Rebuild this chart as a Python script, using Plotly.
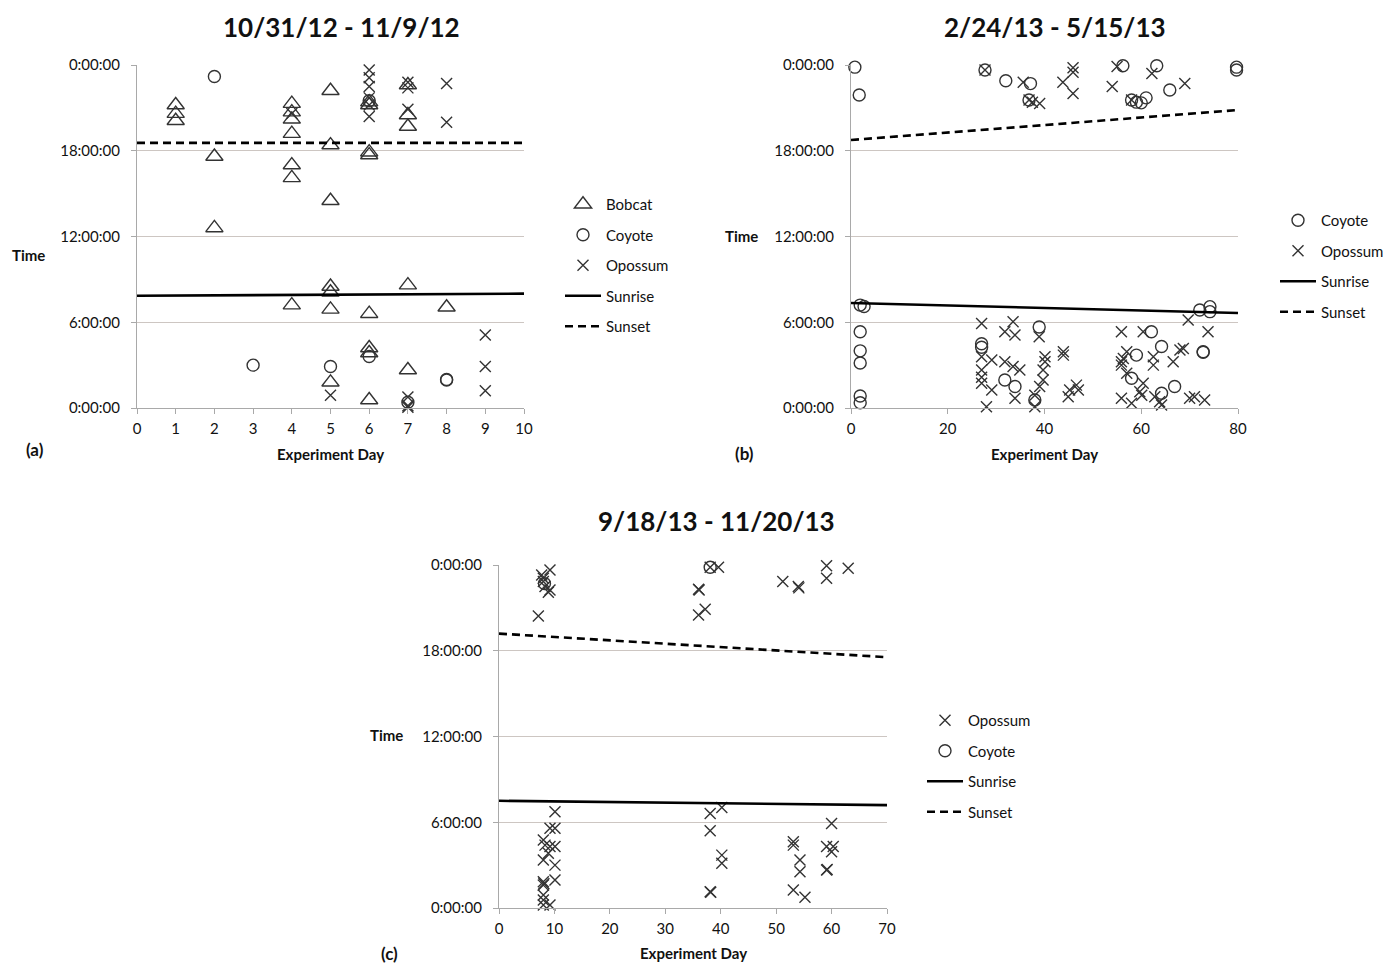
import plotly.graph_objects as go

W, H = 1383, 964

# ---------------- Panel (a): 10/31/12 - 11/9/12 ----------------
a_bobcat_day = [1, 1, 1, 2, 2, 4, 4, 4, 4, 4, 4, 4, 5, 5, 5, 5, 5, 5, 5,
                6, 6, 6, 6, 6, 6, 6, 6, 7, 7, 7, 7, 7, 8]
a_bobcat_time = [21.2, 20.6, 20.1, 17.6, 12.6, 21.3, 20.7, 20.2, 19.2, 17.0, 16.1, 7.2,
                 22.2, 18.4, 14.5, 8.5, 8.1, 6.9, 1.8,
                 21.4, 21.2, 17.9, 17.7, 6.6, 4.2, 3.85, 0.56,
                 22.6, 20.5, 19.7, 8.6, 2.66, 7.05]
a_coyote_day = [2, 3, 5, 6, 6, 7, 8, 8]
a_coyote_time = [23.2, 3.0, 2.9, 21.5, 3.6, 0.4, 1.96, 2.0]
a_opossum_day = [4, 5, 6, 6, 6, 6, 6, 6, 7, 7, 7, 7, 7, 7, 8, 8, 9, 9, 9]
a_opossum_time = [20.6, 0.9, 23.65, 23.1, 22.5, 21.7, 21.2, 20.4, 22.8, 22.4, 20.9,
                  0.77, 0.15, 0.05, 22.7, 20.0, 5.1, 2.9, 1.2]
a_sun_day = [0, 10]
a_sunrise = [7.85, 8.0]
a_sunset = [18.55, 18.55]

# ---------------- Panel (b): 2/24/13 - 5/15/13 ----------------
b_coyote_day = [0.8, 1.7, 27.7, 32, 37.1, 36.8, 56.2, 58, 59, 60, 61, 63.2, 65.9, 79.7, 79.7,
                1.9, 2.7, 1.9, 1.9, 1.9, 1.9, 1.9, 27, 27, 31.8, 33.9, 38.9, 38, 59, 62.1,
                64.2, 58, 64.2, 66.9, 72.8, 72.8, 72.1, 74.2, 74.2]
b_coyote_time = [23.85, 21.9, 23.65, 22.9, 22.7, 21.55, 23.95, 21.55, 21.4, 21.35, 21.7, 23.95,
                 22.25, 23.85, 23.65,
                 7.2, 7.1, 5.34, 4.0, 3.15, 0.84, 0.37, 4.5, 4.25, 1.96, 1.5, 5.67, 0.56, 3.7,
                 5.34, 4.3, 2.08, 1.03, 1.5, 3.94, 3.9, 6.86, 7.09, 6.74]
b_opossum_day = [27.7, 35.6, 36.8, 39, 37.5, 43.8, 45.9, 45.9, 45.9, 54, 55, 58, 62.2, 69,
                 27, 27, 27, 27, 27, 29.1, 29.1, 28, 31.8, 31.8, 33.5, 33.9, 33.5, 34.9, 33.9,
                 38, 38, 38.9, 40.1, 40.1, 39.7, 39.7, 39, 43.9, 43.9, 45.2, 46.6, 47, 44.9,
                 55.9, 57, 55.9, 55.9, 56.3, 57, 55.9, 58, 60.4, 62.5, 62.5, 60.4, 59.7, 60.1,
                 62.8, 64.2, 63.8, 66.6, 68, 68.7, 69.7, 70, 71, 73.1, 73.8]
b_opossum_time = [23.65, 22.8, 21.55, 21.3, 21.4, 22.8, 23.8, 23.5, 22.0, 22.5, 23.9, 21.55,
                  23.4, 22.7,
                  5.92, 3.59, 2.66, 2.15, 1.73, 3.36, 1.26, 0.09, 5.34, 3.24, 6.04, 5.1, 2.9,
                  2.66, 0.68, 0.09, 0.9, 4.99, 3.59, 3.24, 2.66, 1.96, 1.5, 3.94, 3.7, 1.26,
                  1.6, 1.26, 0.79, 5.34, 3.94, 3.24, 3.0, 3.47, 2.43, 0.68, 0.33, 5.34, 3.59,
                  3.0, 1.73, 1.14, 0.9, 0.79, 0.21, 0.44, 3.24, 4.06, 4.17, 6.16, 0.68, 0.79,
                  0.56, 5.34]
b_sun_day = [0, 80]
b_sunrise = [7.35, 6.65]
b_sunset = [18.75, 20.85]

# ---------------- Panel (c): 9/18/13 - 11/20/13 ----------------
c_opossum_day = [7.1, 8.0, 8.0, 7.7, 9.2, 8.3, 8.9, 9.2, 36, 36.1, 36, 37.2, 38.1, 39.6,
                 51.2, 54, 54.1, 59.1, 59.1, 63,
                 10.1, 9.2, 10.1, 8.0, 8.3, 9.2, 10.1, 8.0, 8.9, 10.1, 8.0, 8.0, 8.1, 10.1,
                 8.0, 8.0, 8.0, 9.2, 38.1, 40.2, 38.1, 40.2, 40.2, 38.1, 38.2, 53.1, 53.1,
                 54.3, 54.3, 53.1, 55.2, 60, 59.1, 60.3, 60, 59.1, 59.2]
c_opossum_time = [20.43, 23.07, 22.84, 23.3, 23.65, 22.5, 22.1, 22.25, 22.3, 22.25, 20.5,
                  20.9, 23.84, 23.84, 22.84, 22.5, 22.4, 23.95, 23.07, 23.77,
                  6.74, 5.58, 5.58, 4.76, 4.4, 4.3, 4.3, 3.36, 3.83, 3.0, 1.84, 1.6, 1.7,
                  1.96, 0.91, 0.56, 0.21, 0.21, 6.62, 7.04, 5.41, 3.7, 3.13, 1.14, 1.1, 4.64,
                  4.4, 3.36, 2.54, 1.26, 0.75, 5.92, 4.3, 4.3, 3.94, 2.66, 2.7]
c_coyote_day = [38.1, 8.2]
c_coyote_time = [23.84, 22.7]
c_sun_day = [0, 70]
c_sunrise = [7.5, 7.2]
c_sunset = [19.2, 17.55]

# ---------------- Axes ----------------
y_tickvals = [0, 6, 12, 18, 24]
y_ticktext = ["0:00:00", "6:00:00", "12:00:00", "18:00:00", "0:00:00"]
a_xticks = list(range(0, 11))
b_xticks = [0, 20, 40, 60, 80]
c_xticks = [0, 10, 20, 30, 40, 50, 60, 70]

FONT = "Lato, 'Open Sans', sans-serif"
INK = "#333333"


def px(x):
    return x / W


def py(y):
    return 1 - y / H


fig = go.Figure()

sym = {
    "Bobcat": dict(symbol="triangle-up-open", size=15),
    "Coyote": dict(symbol="circle-open", size=12),
    "Opossum": dict(symbol="x-thin", size=11),
}


def add_points(name, xs, ys, ax, legend):
    s = sym[name]
    fig.add_trace(go.Scatter(
        x=xs, y=ys, mode="markers", name=name,
        xaxis="x" + ax, yaxis="y" + ax, legend=legend, legendgroup=name + legend,
        marker=dict(symbol=s["symbol"], size=s["size"], color=INK,
                    line=dict(color=INK, width=1.4)),
        cliponaxis=False,
    ))


def add_line(name, xs, ys, ax, legend, dash):
    fig.add_trace(go.Scatter(
        x=xs, y=ys, mode="lines", name=name,
        xaxis="x" + ax, yaxis="y" + ax, legend=legend, legendgroup=name + legend,
        line=dict(color="black", width=2.6, dash=dash),
    ))


# panel a
add_points("Bobcat", a_bobcat_day, a_bobcat_time, "", "legend")
add_points("Coyote", a_coyote_day, a_coyote_time, "", "legend")
add_points("Opossum", a_opossum_day, a_opossum_time, "", "legend")
add_line("Sunrise", a_sun_day, a_sunrise, "", "legend", "solid")
add_line("Sunset", a_sun_day, a_sunset, "", "legend", "8px,5px")
# panel b
add_points("Coyote", b_coyote_day, b_coyote_time, "2", "legend2")
add_points("Opossum", b_opossum_day, b_opossum_time, "2", "legend2")
add_line("Sunrise", b_sun_day, b_sunrise, "2", "legend2", "solid")
add_line("Sunset", b_sun_day, b_sunset, "2", "legend2", "8px,5px")
# panel c
add_points("Opossum", c_opossum_day, c_opossum_time, "3", "legend3")
add_points("Coyote", c_coyote_day, c_coyote_time, "3", "legend3")
add_line("Sunrise", c_sun_day, c_sunrise, "3", "legend3", "solid")
add_line("Sunset", c_sun_day, c_sunset, "3", "legend3", "8px,5px")

axis_common = dict(
    showline=True, linecolor="#a9a9a9", linewidth=1.2,
    ticks="outside", tickcolor="#a9a9a9", ticklen=5, tickwidth=1,
    tickfont=dict(family=FONT, size=15, color="#111111"),
    zeroline=False, fixedrange=True, automargin=False,
)
yaxis_common = dict(axis_common, range=[0, 24], tickvals=y_tickvals, ticktext=y_ticktext,
                    showgrid=True, gridcolor="#cdc6c2", gridwidth=1.2, ticklabelstandoff=8)
xaxis_common = dict(axis_common, showgrid=False, ticklabelstandoff=2)


def dom_x(x0, x1):
    return [px(x0), px(x1)]


def dom_y(y_top, y_bot):
    return [py(y_bot), py(y_top)]


legend_common = dict(
    font=dict(family=FONT, size=15, color="#111111"),
    bgcolor="rgba(0,0,0,0)", borderwidth=0, traceorder="grouped", tracegroupgap=8,
    xanchor="left", yanchor="top", itemwidth=36,
)

annotations = []


def label(text, x, y, size, bold=True):
    annotations.append(dict(
        text=("<b>%s</b>" % text) if bold else text, x=px(x), y=py(y),
        xref="paper", yref="paper", showarrow=False, xanchor="center", yanchor="middle",
        font=dict(family=FONT, size=size, color="#111111"),
    ))


label("10/31/12 - 11/9/12", 341, 27, 26)
label("2/24/13 - 5/15/13", 1055, 27, 26)
label("9/18/13 - 11/20/13", 716, 521, 26)
label("Time", 28, 255, 15)
label("Time", 741, 236, 15)
label("Time", 386, 735, 15)
label("Experiment Day", 330, 454, 15)
label("Experiment Day", 1044, 454, 15)
label("Experiment Day", 693, 953, 15)
label("(a)", 35, 449, 17)
label("(b)", 744, 453, 17)
label("(c)", 389, 953, 17)

fig.update_layout(
    width=W, height=H,
    margin=dict(l=0, r=0, t=0, b=0, autoexpand=False),
    paper_bgcolor="white", plot_bgcolor="white",
    showlegend=True,
    xaxis=dict(xaxis_common, domain=dom_x(137, 524), range=[0, 10], tickvals=a_xticks, anchor="y"),
    yaxis=dict(yaxis_common, domain=dom_y(65, 408), anchor="x"),
    xaxis2=dict(xaxis_common, domain=dom_x(851, 1238), range=[0, 80], tickvals=b_xticks, anchor="y2"),
    yaxis2=dict(yaxis_common, domain=dom_y(65, 408), anchor="x2"),
    xaxis3=dict(xaxis_common, domain=dom_x(499, 887), range=[0, 70], tickvals=c_xticks, anchor="y3"),
    yaxis3=dict(yaxis_common, domain=dom_y(565, 908), anchor="x3"),
    legend=dict(legend_common, x=px(560), y=py(188)),
    legend2=dict(legend_common, x=px(1275), y=py(204)),
    legend3=dict(legend_common, x=px(922), y=py(704)),
    annotations=annotations,
)

fig.write_html(
    "out.html",
    config={"displayModeBar": False},
    post_script="document.body.style.margin='0px';document.body.style.overflow='hidden';",
)
